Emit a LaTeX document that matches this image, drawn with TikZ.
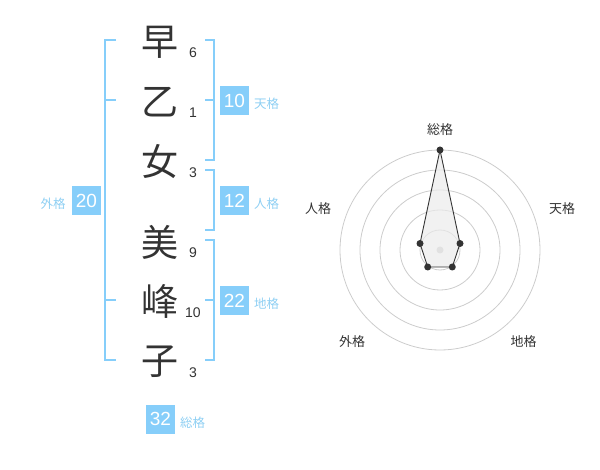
\documentclass[tikz,border=0pt]{standalone}
\usepackage{fontspec}
\setmainfont{Liberation Sans}
\newfontfamily\cjk{Noto Sans CJK JP}
\definecolor{brk}{HTML}{86CEFA}
\definecolor{lbl}{HTML}{8ECFF3}
\definecolor{ink}{HTML}{333333}
\definecolor{gridc}{HTML}{CCCCCC}
\begin{document}
\begin{tikzpicture}[x=1pt,y=-1pt,
  kanji/.style={font=\cjk\fontsize{37}{37}\selectfont, text=ink, inner sep=0},
  strokes/.style={font=\fontsize{14}{14}\selectfont, text=ink, inner sep=0},
  numbox/.style={fill=brk, text=white, minimum width=29pt, minimum height=29pt, inner sep=0, font=\fontsize{19}{19}\selectfont},
  kaku/.style={font=\cjk\fontsize{12.5}{12.5}\selectfont, text=lbl, inner sep=0},
  bracket/.style={draw=brk, line width=2pt},
  ring/.style={draw=gridc, line width=0.8pt},
  axislbl/.style={font=\cjk\fontsize{13}{13}\selectfont, text=ink, inner sep=0},
  dot/.style={circle, fill=ink, inner sep=0, minimum size=7pt}]
\useasboundingbox (0,0) rectangle (600,470);
% characters
\node[kanji] (c1) at (160,42) {早};
\node[kanji] (c2) at (160,102) {乙};
\node[kanji] (c3) at (160,162) {女};
\node[kanji] (c4) at (160,242) {美};
\node[kanji] (c5) at (160,301) {峰};
\node[kanji] (c6) at (160,362) {子};
% stroke counts
\node[strokes] (n1) at (193,53) {6};
\node[strokes] (n2) at (193,113) {1};
\node[strokes] (n3) at (193,173) {3};
\node[strokes] (n4) at (193,253) {9};
\node[strokes] (n5) at (193,313) {10};
\node[strokes] (n6) at (193,373) {3};
% brackets
\draw[bracket] (116,40) -- (105,40) -- (105,360) -- (116,360);
\draw[bracket] (105,100) -- (116,100);
\draw[bracket] (105,300) -- (116,300);
\draw[bracket] (205,40) -- (214,40) -- (214,160) -- (205,160);
\draw[bracket] (214,100) -- (205,100);
\draw[bracket] (205,170) -- (214,170) -- (214,230) -- (205,230);
\draw[bracket] (205,240) -- (214,240) -- (214,360) -- (205,360);
\draw[bracket] (214,300) -- (205,300);
% boxes
\node[numbox] (ten) at (234.5,100.5) {10};
\node[numbox] (jin) at (234.5,200.5) {12};
\node[numbox] (chi) at (234.5,300.5) {22};
\node[numbox] (gai) at (86.5,200.5) {20};
\node[numbox] (sou) at (160.5,419) {32};
\node[kaku, anchor=west] (tenl) at (254,104) {天格};
\node[kaku, anchor=west] (jinl) at (254,204) {人格};
\node[kaku, anchor=west] (chil) at (254,304) {地格};
\node[kaku] (gail) at (53,203.5) {外格};
\node[kaku, anchor=west] (soul) at (180,423) {総格};
% radar
\coordinate (ctr) at (440,250);
\foreach \r in {20,40,60,80,100} \draw[ring] (ctr) circle[radius=\r pt];
\coordinate (pS) at (440,150);
\coordinate (pT) at (460,243.5);
\coordinate (pC) at (452.3,267);
\coordinate (pG) at (427.7,267);
\coordinate (pJ) at (420,243.5);
\fill[gridc] (ctr) circle[radius=3.5pt];
\draw[ink, line width=0.9pt, fill=black!8, fill opacity=0.7] (pS) -- (pT) -- (pC) -- (pG) -- (pJ) -- cycle;
\foreach \p in {pS,pT,pC,pG,pJ} \node[dot] at (\p) {};
\node[axislbl] (aS) at (440,130) {総格};
\node[axislbl] (aT) at (562,208.5) {天格};
\node[axislbl] (aJ) at (318,208.5) {人格};
\node[axislbl] (aG) at (352,342) {外格};
\node[axislbl] (aC) at (523.5,342) {地格};
\end{tikzpicture}
\end{document}
